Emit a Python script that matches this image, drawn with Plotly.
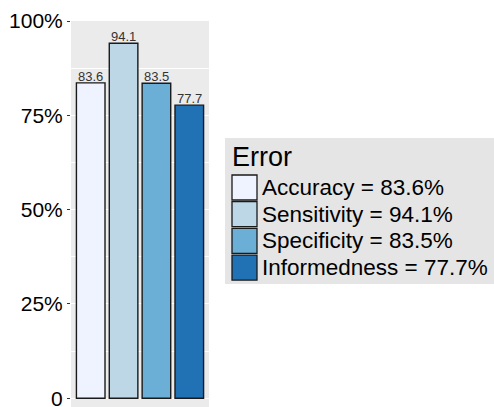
import plotly.graph_objects as go

metrics = ["Accuracy", "Sensitivity", "Specificity", "Informedness"]
values = [83.6, 94.1, 83.5, 77.7]
colors = ["#EFF3FF", "#BDD7E7", "#6BAED6", "#2171B5"]
tick_vals = [0, 25, 50, 75, 100]
tick_text = ["0", "25%", "50%", "75%", "100%"]
legend_title = "Error"

W, H = 494, 407
L, R, T, B = 71, 209, 21, 407
Y_MIN, Y_MAX = -2.3, 100
X_MIN, X_MAX = -0.6, 3.6


def px(x):
    return (x - L) / (R - L)


def py(y):
    return 1 - (y - T) / (B - T)


fig = go.Figure()
fig.add_trace(go.Bar(
    x=metrics, y=values,
    marker=dict(color=colors, line=dict(color="#1a1a1a", width=1.4)),
    width=0.87,
    showlegend=False,
))

shapes = [
    # panel background, clipped to the data range
    dict(type="rect", xref="x", yref="y", x0=X_MIN, x1=X_MAX, y0=Y_MIN, y1=Y_MAX,
         fillcolor="#EBEBEB", line=dict(width=0), layer="below"),
    # legend background
    dict(type="rect", xref="paper", yref="paper",
         x0=px(225), x1=px(494), y0=py(284), y1=py(138),
         fillcolor="#E5E5E5", line=dict(width=0), layer="below"),
]
annotations = [dict(text=legend_title, xref="paper", yref="paper",
                    x=px(230), y=py(157), xanchor="left", yanchor="middle",
                    showarrow=False,
                    font=dict(size=27, color="#000000", family="Liberation Sans, Arial"))]
for m, v in zip(metrics, values):
    annotations.append(dict(text=f"{v:.1f}", x=m, y=v, xref="x", yref="y",
                            xanchor="center", yanchor="bottom", showarrow=False,
                            yshift=-3,
                            font=dict(size=13, color="#333333", family="Liberation Sans, Arial")))
for i, (m, v, c) in enumerate(zip(metrics, values, colors)):
    top = 175 + i * 26.7
    shapes.append(dict(type="rect", xref="paper", yref="paper",
                       x0=px(232), x1=px(257), y0=py(top + 25), y1=py(top),
                       fillcolor=c, line=dict(color="#1a1a1a", width=1.3)))
    annotations.append(dict(text=f"{m} = {v:.1f}%", xref="paper", yref="paper",
                            x=px(260), y=py(top + 12.5), xanchor="left", yanchor="middle",
                            showarrow=False,
                            font=dict(size=22.5, color="#000000", family="Liberation Sans, Arial")))

fig.update_layout(
    width=W, height=H,
    margin=dict(l=L, r=W - R, t=T, b=H - B, pad=0, autoexpand=False),
    paper_bgcolor="white", plot_bgcolor="rgba(0,0,0,0)",
    font=dict(family="Liberation Sans, Arial", color="#000000"),
    shapes=shapes, annotations=annotations,
    xaxis=dict(showticklabels=False, showgrid=False, zeroline=False, ticks="",
               range=[X_MIN, X_MAX], autorange=False, automargin=False),
    yaxis=dict(range=[Y_MIN, Y_MAX], autorange=False, tickvals=tick_vals, ticktext=tick_text,
               automargin=False, ticklabeloverflow="allow",
               showgrid=True, gridcolor="white", gridwidth=1.3, zeroline=False,
               ticks="outside", ticklen=3, tickcolor="#333333", tickwidth=1,
               tickfont=dict(size=21, color="#000000"),
               minor=dict(tickvals=[12.5, 37.5, 62.5, 87.5], showgrid=True,
                          gridcolor="white", gridwidth=0.6, ticks="")),
)

fig.write_html(
    "out.html",
    config={"displayModeBar": False},
    post_script="document.body.style.margin='0';document.body.style.overflow='hidden';",
)
